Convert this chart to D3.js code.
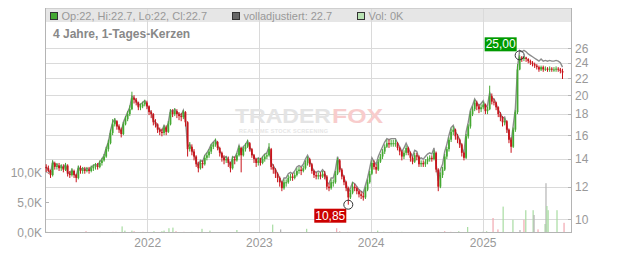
<!DOCTYPE html>
<html><head><meta charset="utf-8">
<script src="https://cdn.jsdelivr.net/npm/d3@7"></script>
<style>
html,body{margin:0;padding:0;background:#fff;}
svg{display:block;font-family:"Liberation Sans",Arial,sans-serif;}
</style></head><body>
<svg id="chart" width="632" height="253"></svg>
<script>
// ---------------- data ----------------
const title = "4 Jahre, 1-Tages-Kerzen";
const legendLabels = ["Op:22, Hi:22.7, Lo:22, Cl:22.7", "volladjustiert: 22.7", "Vol: 0K"];
const firstCandleDate = "2021-02-05";   // weekly candles from here on
const firstOpen = 13.4;
const closes = [
13.3,13.1,12.8,13.7,13.4,13.5,13.3,13.4,13.2,13.5,
12.9,12.8,13.1,12.8,12.6,13.3,13.1,13.2,13.1,13.2,
13.1,13.3,13.4,13.5,13.4,13.7,13.9,14.2,14.8,15.3,
16.2,17.0,17.3,16.8,16.5,16.1,17.0,17.5,18.0,18.5,
19.7,19.5,19.2,18.7,18.8,19.0,19.2,18.8,18.2,18.0,
17.2,17.0,16.5,16.3,16.2,16.7,16.3,17.0,18.2,18.0,
18.3,18.0,17.8,17.7,18.2,17.2,14.8,15.0,14.6,14.2,
13.6,13.3,13.7,13.6,14.1,14.3,14.6,15.0,15.2,15.4,
14.9,14.5,14.1,13.9,14.0,13.7,13.3,14.0,13.9,14.3,
14.9,14.3,14.8,15.0,15.3,14.8,14.3,14.0,13.7,13.9,
13.7,14.0,14.2,14.3,14.8,13.4,13.2,12.9,12.6,12.3,
11.9,12.3,12.3,12.6,12.7,12.6,12.8,13.1,13.2,13.1,
13.3,13.7,14.0,13.6,13.1,12.8,12.7,12.8,12.7,12.9,
12.7,12.0,11.9,12.3,12.3,12.9,13.9,13.2,12.7,12.3,
11.9,11.3,11.6,12.0,11.9,11.7,11.5,11.4,11.3,11.8,
12.3,12.9,13.7,13.4,13.2,13.8,14.2,14.6,15.0,15.3,
15.2,15.3,15.3,15.3,14.9,14.6,14.2,14.5,14.9,14.5,
14.1,13.8,14.3,14.2,13.6,13.7,13.6,13.8,14.0,14.1,
14.0,14.5,13.2,12.0,12.8,13.2,14.2,14.8,15.6,16.3,
16.5,15.9,15.6,15.2,14.5,14.1,15.9,16.8,18.0,18.5,
19.2,18.8,18.5,18.7,19.0,18.3,18.5,19.9,19.3,19.2,
18.7,18.0,17.7,17.2,17.3,16.5,15.6,15.0,16.5,18.2,
23.1,24.7,24.5,24.7,24.5,24.2,24.0,23.8,23.6,23.4,
23.1,23.4,23.1,23.2,23.1,23.2,23.1,23.1,23.2,23.1,
22.9,22.7];
const highs = [
13.6,13.5,13.2,13.9,13.8,13.7,13.7,13.6,13.6,13.7,
13.6,13.1,13.3,13.2,12.9,13.5,13.5,13.4,13.4,13.4,
13.4,13.5,13.6,13.7,13.7,13.9,14.1,14.4,15.0,15.6,
16.5,17.5,17.6,17.4,17.0,16.7,17.2,17.8,18.3,18.9,
20.4,20.0,19.7,19.3,19.1,19.3,19.5,19.4,18.9,18.4,
18.1,17.5,17.1,16.7,16.6,16.9,16.9,17.3,18.5,18.5,
18.6,18.5,18.2,18.1,18.4,18.3,17.3,15.4,15.2,14.8,
14.3,13.8,13.9,13.9,14.3,14.5,14.8,15.2,15.4,15.7,
15.5,15.0,14.6,14.3,14.2,14.2,13.8,14.2,14.2,14.5,
15.1,15.0,15.0,15.3,15.6,15.4,14.9,14.4,14.1,14.1,
14.1,14.2,14.4,14.5,15.3,14.9,13.6,13.3,13.0,12.7,
12.4,12.5,12.5,12.8,12.9,12.9,13.0,13.3,13.4,13.4,
13.5,13.9,14.2,14.1,13.7,13.2,13.0,13.0,13.0,13.1,
13.1,12.8,12.2,12.5,12.5,13.1,14.1,14.0,13.3,12.8,
12.4,12.0,11.8,12.3,12.2,12.0,11.8,11.7,11.6,12.0,
12.5,13.1,13.9,13.9,13.6,14.0,14.4,14.8,15.2,15.6,
15.6,15.6,15.6,15.6,15.4,15.0,14.7,14.7,15.1,15.0,
14.6,14.2,14.5,14.5,14.3,13.9,13.9,14.0,14.2,14.3,
14.3,14.7,14.6,13.3,13.0,13.4,14.4,15.0,15.8,16.6,
16.8,16.6,16.1,15.7,15.3,14.6,16.1,17.0,18.3,18.8,
19.5,19.4,19.0,19.0,19.3,19.1,18.8,21.1,20.2,19.6,
19.3,18.8,18.2,17.8,17.6,17.4,16.6,15.8,16.7,18.4,
23.8,25.0,24.9,24.9,24.8,24.6,24.4,24.2,24.0,23.8,
23.6,23.6,23.6,23.5,23.4,23.5,23.4,23.4,23.5,23.4,
23.3,23.2];
const lows = [
13.0,12.9,12.6,12.7,13.2,13.2,13.1,13.1,13.0,13.1,
12.7,12.6,12.7,12.6,12.3,12.5,12.9,12.9,12.9,13.0,
12.9,13.0,13.1,13.2,13.2,13.3,13.5,13.8,14.1,14.6,
15.2,16.0,16.8,16.5,16.2,15.8,16.0,16.9,17.3,17.8,
18.4,19.1,18.9,18.4,18.4,18.6,18.8,18.5,17.9,17.6,
16.9,16.7,16.2,16.0,15.9,16.0,16.0,16.2,16.9,17.7,
17.8,17.6,17.4,17.3,17.5,16.8,14.2,14.6,14.3,13.9,
13.4,13.0,13.2,13.3,13.5,13.9,14.1,14.4,14.8,15.0,
14.7,14.2,13.8,13.6,13.7,13.4,13.0,13.2,13.6,13.8,
14.2,13.0,14.2,14.6,14.9,14.6,14.1,13.7,13.4,13.5,
13.5,13.6,13.8,14.0,14.2,13.2,12.9,12.6,12.3,12.0,
11.7,11.8,12.0,12.2,12.4,12.4,12.5,12.7,12.9,12.8,
13.0,13.2,13.5,13.4,12.9,12.6,12.5,12.5,12.5,12.6,
12.5,11.8,11.7,11.8,12.0,12.2,12.8,13.0,12.5,12.1,
11.7,10.85,11.2,11.5,11.7,11.5,11.3,11.2,11.1,11.2,
11.7,12.2,12.8,13.2,12.9,13.1,13.7,14.0,14.4,14.9,
14.9,15.0,15.0,15.0,14.7,14.3,13.9,14.0,14.3,14.3,
13.8,13.6,13.7,13.9,13.4,13.4,13.4,13.4,13.6,13.8,
13.8,13.9,13.0,11.7,11.9,12.6,13.1,14.0,14.6,15.4,
16.0,15.6,15.3,14.9,14.2,13.9,14.0,15.7,16.6,17.8,
18.3,18.4,18.1,18.2,18.5,18.0,18.0,18.4,19.0,18.9,
18.4,17.7,17.3,16.8,16.9,16.2,15.3,14.5,14.9,16.3,
18.0,23.0,24.1,24.2,24.1,23.9,23.7,23.5,23.3,23.1,
22.8,22.9,22.8,22.9,22.8,22.8,22.8,22.8,22.8,22.8,
22.6,21.9];
const adjusted = [
13.4,13.2,12.9,13.8,13.5,13.6,13.4,13.5,13.3,13.6,
13.0,12.9,13.2,12.9,12.7,13.4,13.2,13.3,13.2,13.3,
13.2,13.4,13.5,13.6,13.5,13.8,14.0,14.3,14.9,15.4,
16.4,17.2,17.5,17.0,16.7,16.3,17.2,17.7,18.2,18.7,
19.9,19.7,19.4,18.9,19.0,19.2,19.4,19.0,18.4,18.2,
17.4,17.2,16.7,16.5,16.4,16.9,16.5,17.2,18.4,18.2,
18.5,18.2,18.0,17.9,18.4,17.4,15.0,15.2,14.8,14.4,
13.8,13.5,13.9,13.8,14.3,14.5,14.8,15.2,15.4,15.6,
15.1,14.7,14.3,14.1,14.2,13.9,13.5,14.2,14.1,14.5,
15.1,14.5,15.0,15.2,15.5,15.0,14.5,14.2,13.9,14.1,
13.9,14.2,14.4,14.5,15.0,13.7,13.5,13.2,12.9,12.6,
12.2,12.6,12.6,12.9,13.0,12.9,13.1,13.4,13.5,13.4,
13.6,14.0,14.3,13.9,13.4,13.1,13.0,13.1,13.0,13.2,
13.0,12.3,12.2,12.6,12.6,13.2,14.2,13.5,13.0,12.6,
12.2,11.6,11.9,12.3,12.2,12.0,11.8,11.7,11.6,12.1,
12.6,13.3,14.1,13.8,13.6,14.2,14.6,15.0,15.4,15.7,
15.6,15.7,15.7,15.7,15.3,15.0,14.6,14.9,15.3,14.9,
14.5,14.2,14.7,14.6,14.0,14.1,14.0,14.2,14.4,14.5,
14.4,14.9,13.6,12.4,13.2,13.6,14.6,15.2,16.0,16.7,
16.9,16.3,16.0,15.6,14.9,14.5,16.3,17.2,18.4,18.9,
19.6,19.2,18.9,19.1,19.4,18.7,18.9,20.3,19.7,19.6,
19.1,18.4,18.1,17.6,17.7,16.9,16.0,15.4,16.9,18.6,
23.4,25.7,25.5,25.7,25.5,25.2,25.0,24.8,24.6,24.4,
24.2,24.5,24.2,24.3,24.2,24.3,24.2,24.2,24.3,24.2,
24.0,23.4];
const volDates = ["2021-02-07","2021-06-15","2021-07-31","2021-09-11","2021-09-21","2021-10-11","2021-10-20","2021-11-12","2021-11-19","2021-12-18",
"2022-01-23","2022-02-18","2022-02-25","2022-03-13","2022-03-26","2022-04-05","2022-05-01","2022-05-27","2022-06-29","2022-07-25","2022-10-21",
"2023-02-15","2023-03-13","2023-06-06","2023-09-12","2023-09-22","2023-10-18",
"2024-01-24","2024-02-13","2024-03-10","2024-03-26","2024-04-12","2024-08-10","2024-08-30","2024-09-19","2024-10-15","2024-11-13",
"2025-01-01","2025-01-14","2025-02-04","2025-02-20","2025-03-09","2025-04-10","2025-05-03","2025-05-16","2025-05-22","2025-06-15","2025-06-18",
"2025-07-01","2025-07-24","2025-07-27","2025-07-30","2025-08-03","2025-09-01","2025-09-24"];
const volK = [0.2,0.3,0.2,0.2,0.2,1.1,0.4,0.4,0.3,0.2,
0.3,0.3,0.4,0.8,0.9,0.3,0.2,0.2,0.7,0.4,0.5,
1.4,0.6,0.7,0.8,0.3,0.2,
0.4,0.2,0.2,0.2,0.2,0.2,0.3,0.2,0.3,1.0,
0.2,0.3,2.5,0.6,4.4,2.2,0.5,2.2,3.8,3.8,3.0,
0.6,1.5,8.3,4.5,3.8,3.8,1.7];
const volDir = ["u","d","n","d","d","u","u","u","d","d",
"u","u","u","u","u","d","d","u","u","u","u",
"u","n","u","d","d","d",
"u","u","d","d","u","d","d","d","u","u",
"u","u","d","d","u","u","n","d","u","u","n",
"d","u","n","u","u","u","d"];
const priceTicks = [10,12,14,16,18,20,22,24,26];
const volTicks = [0,5,10];
const yearTicks = ["2022-01-01","2023-01-01","2024-01-01","2025-01-01"];
const xDomain = ["2021-02-01","2025-10-20"];
const priceDomain = [10,26];
const volDomain = [0,10];

// ---------------- layout / style ----------------
const W = 632, H = 253;
const L = 45, R = 572, T = 8, B = 233, legendBottom = 22;
const C = {grid:"#dadada", frame:"#b4b4b4", text:"#999", title:"#888",
  up:"#44a832", down:"#c8141b", adj:"#8c8c8c", band:"#e6e6e6",
  volU:"#a8dca2", volD:"#f2a8b0", volN:"#b4b4b4"};

const parse = d3.utcParse("%Y-%m-%d");
const svg = d3.select("#chart");

const x = d3.scaleUtc().domain(xDomain.map(parse)).range([L, R]);
const y = d3.scaleLog().domain(priceDomain).range([219.3, 48.3]);
const yv = d3.scaleLinear().domain(volDomain).range([B, 173]);

const start = parse(firstCandleDate);
const candles = closes.map((c, i) => ({
  date: d3.utcDay.offset(start, 7 * i),
  open: i ? closes[i - 1] : firstOpen,
  close: c, high: highs[i], low: lows[i], adj: adjusted[i]
}));
const vols = volDates.map((d, i) => ({date: parse(d), v: volK[i], dir: volDir[i]}));

// legend band
svg.append("rect").attr("x", L).attr("y", T).attr("width", R - L).attr("height", legendBottom - T).attr("fill", C.band);

// grid
svg.append("g").selectAll("line").data(priceTicks).join("line")
  .attr("x1", L).attr("x2", R)
  .attr("y1", d => Math.round(y(d)) + 0.5).attr("y2", d => Math.round(y(d)) + 0.5)
  .attr("stroke", C.grid);
svg.append("g").selectAll("line").data(yearTicks.map(parse)).join("line")
  .attr("x1", d => Math.round(x(d)) + 0.5).attr("x2", d => Math.round(x(d)) + 0.5)
  .attr("y1", T).attr("y2", B)
  .attr("stroke", C.grid);

// frame
svg.append("line").attr("x1", L).attr("x2", R).attr("y1", T + 0.5).attr("y2", T + 0.5).attr("stroke", "#cfcfcf");
svg.append("line").attr("x1", L + 0.5).attr("x2", L + 0.5).attr("y1", T).attr("y2", B).attr("stroke", C.frame);
svg.append("line").attr("x1", R - 0.5).attr("x2", R - 0.5).attr("y1", T).attr("y2", B).attr("stroke", C.frame);
svg.append("line").attr("x1", L).attr("x2", R).attr("y1", B - 0.5).attr("y2", B - 0.5).attr("stroke", C.frame);

// watermark
const wm = svg.append("g").attr("font-weight", "bold");
wm.append("text").attr("x", 235).attr("y", 123).attr("font-size", 20)
  .attr("textLength", 96).attr("lengthAdjust", "spacingAndGlyphs").attr("fill", "#e4e4e4").text("TRADER");
wm.append("text").attr("x", 332).attr("y", 123).attr("font-size", 20)
  .attr("textLength", 51).attr("lengthAdjust", "spacingAndGlyphs").attr("fill", "#f8cccc").text("FOX");
wm.append("text").attr("x", 239).attr("y", 132.5).attr("font-size", 5.5)
  .attr("textLength", 89).attr("lengthAdjust", "spacing").attr("fill", "#e6e6e6").text("REALTIME STOCK SCREENING");

// title
svg.append("text").attr("x", 53).attr("y", 37.5).attr("font-size", 12).attr("font-weight", "bold")
  .attr("fill", C.title).text(title);

// legend
const legCols = [C.up, "#666", "#b8e2b2"];
const legX = [50, 232, 357];
legendLabels.forEach((t, i) => {
  svg.append("rect").attr("x", legX[i] + 0.5).attr("y", 12.5).attr("width", 7).attr("height", 7)
    .attr("fill", legCols[i]).attr("stroke", "#333");
  svg.append("text").attr("x", legX[i] + 11.5).attr("y", 19.5).attr("font-size", 11)
    .attr("fill", C.text).text(t);
});

// volume
svg.append("g").selectAll("rect").data(vols).join("rect")
  .attr("x", d => x(d.date) - 0.6).attr("width", 1.2)
  .attr("y", d => yv(d.v)).attr("height", d => B - 1 - yv(d.v))
  .attr("fill", d => d.dir === "u" ? C.volU : d.dir === "d" ? C.volD : C.volN);

// adjusted line
svg.append("path").datum(candles)
  .attr("d", d3.line().x(d => x(d.date)).y(d => y(d.adj)))
  .attr("fill", "none").attr("stroke", C.adj).attr("stroke-width", 1.4);

// candles
const cg = svg.append("g").selectAll("g").data(candles).join("g")
  .attr("fill", d => d.close >= d.open ? C.up : C.down)
  .attr("stroke", d => d.close >= d.open ? C.up : C.down);
cg.append("line").attr("x1", d => x(d.date)).attr("x2", d => x(d.date))
  .attr("y1", d => y(d.high)).attr("y2", d => y(d.low)).attr("stroke-width", 1);
cg.append("rect").attr("stroke", "none")
  .attr("x", d => x(d.date) - 0.9).attr("width", 1.8)
  .attr("y", d => y(Math.max(d.open, d.close)))
  .attr("height", d => Math.max(1, Math.abs(y(d.open) - y(d.close))));

// high / low markers
const fmt = v => d3.format(".2f")(v).replace(".", ",");
const hi = candles[d3.maxIndex(candles, d => d.high)];
const lo = candles[d3.minIndex(candles, d => d.low)];
const hx = x(hi.date), hy = y(hi.high), lx = x(lo.date), ly = y(lo.low);
svg.append("rect").attr("x", hx - 35).attr("y", hy - 18).attr("width", 32).attr("height", 14).attr("fill", "#009a00");
svg.append("text").attr("x", hx - 19).attr("y", hy - 7).attr("text-anchor", "middle").attr("font-size", 12)
  .attr("fill", "#fff").text(fmt(hi.high));
svg.append("circle").attr("cx", hx).attr("cy", hy).attr("r", 4.5).attr("fill", "none").attr("stroke", "#333");
svg.append("rect").attr("x", lx - 34).attr("y", ly + 4).attr("width", 32).attr("height", 14).attr("fill", "#cc0000");
svg.append("text").attr("x", lx - 18).attr("y", ly + 15).attr("text-anchor", "middle").attr("font-size", 12)
  .attr("fill", "#fff").text(fmt(lo.low));
svg.append("circle").attr("cx", lx).attr("cy", ly).attr("r", 4.5).attr("fill", "none").attr("stroke", "#333");

// axes
const styleAxis = g => { g.select(".domain").remove(); g.selectAll("text").attr("fill", C.text).attr("font-size", 12)
  .attr("font-family", '"Liberation Sans",Arial,sans-serif'); g.selectAll("line").remove(); };
svg.append("g").attr("transform", `translate(${R},0)`)
  .call(d3.axisRight(y).tickValues(priceTicks).tickFormat(d3.format("d")).tickSize(0).tickPadding(3)).call(styleAxis);
svg.append("g").attr("transform", `translate(${L},0)`)
  .call(d3.axisLeft(yv).tickValues(volTicks).tickFormat(d => d3.format(".1f")(d).replace(".", ",") + "K").tickSize(0).tickPadding(3)).call(styleAxis);
svg.append("g").attr("transform", `translate(0,${B})`)
  .call(d3.axisBottom(x).tickValues(yearTicks.map(parse)).tickFormat(d3.utcFormat("%Y")).tickSize(0).tickPadding(5)).call(styleAxis);
// inward tick marks
svg.append("g").selectAll("line").data(priceTicks).join("line")
  .attr("x1", R - 4).attr("x2", R).attr("y1", d => Math.round(y(d)) + 0.5).attr("y2", d => Math.round(y(d)) + 0.5).attr("stroke", C.frame);
svg.append("g").selectAll("line").data(volTicks).join("line")
  .attr("x1", L).attr("x2", L + 4).attr("y1", d => Math.round(yv(d)) - 0.5).attr("y2", d => Math.round(yv(d)) - 0.5).attr("stroke", C.frame);
</script>
</body></html>
